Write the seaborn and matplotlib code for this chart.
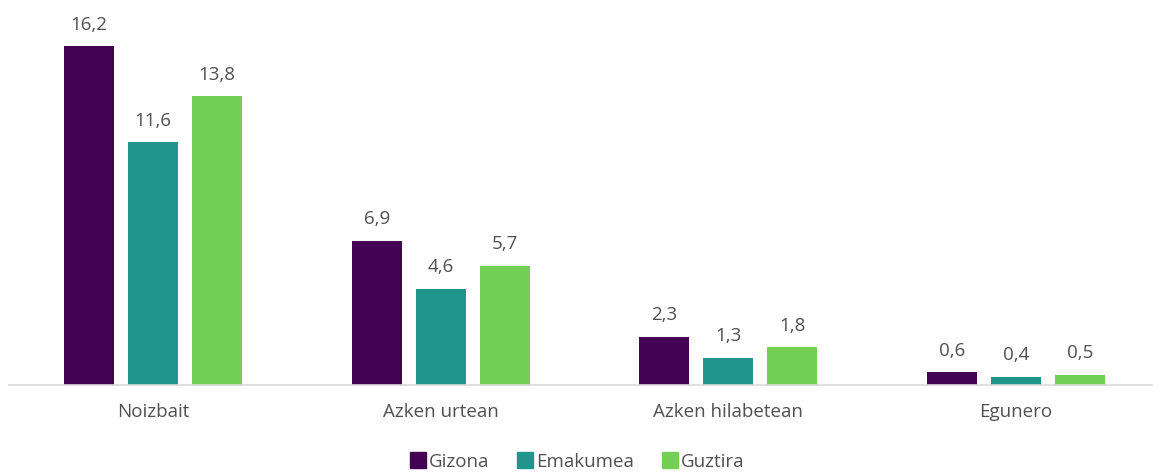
import pandas as pd
import matplotlib.pyplot as plt
import seaborn as sns

# data
categories = ['Noizbait', 'Azken urtean', 'Azken hilabetean', 'Egunero']
gizona = [16.2, 6.9, 2.3, 0.6]
emakumea = [11.6, 4.6, 1.3, 0.4]
guztira = [13.8, 5.7, 1.8, 0.5]
series = ['Gizona', 'Emakumea', 'Guztira']
colors = ['#440154', '#21958b', '#74d055']

df = pd.DataFrame({
    'cat': categories * 3,
    'val': gizona + emakumea + guztira,
    'serie': [s for s in series for _ in categories],
})

sns.set_style('white')
plt.rcParams['font.family'] = ['Open Sans', 'DejaVu Sans']

fig = plt.figure(figsize=(11.53, 4.72), dpi=100)
ax = fig.add_axes([9 / 1153, 87 / 472, 1151 / 1153, 385 / 472])

sns.barplot(data=df, x='cat', y='val', hue='serie', palette=colors, saturation=1,
            width=0.667, gap=0.22, ax=ax, legend=False, linewidth=0)

for cont in ax.containers:
    ax.bar_label(cont, labels=[f'{v:.1f}'.replace('.', ',') for v in cont.datavalues],
                 padding=9, fontsize=13.5, color='#505050')

ax.set_ylim(0, 18.4)
ax.set_xlim(-0.5, 3.5)
ax.set_yticks([])
ax.set_xlabel('')
ax.set_ylabel('')
for s in ['top', 'left', 'right']:
    ax.spines[s].set_visible(False)
ax.spines['bottom'].set_color('#d9d9d9')
ax.spines['bottom'].set_linewidth(1.2)
ax.tick_params(axis='x', length=0, pad=13, labelsize=13.5, labelcolor='#505050')

handles = [plt.Line2D([], [], marker='s', linestyle='', color=c, markersize=11) for c in colors]
fig.legend(handles, series, loc='center', bbox_to_anchor=(0.5, 10 / 472), ncol=3,
           frameon=False, fontsize=13.5, labelcolor='#505050', handletextpad=0.1,
           columnspacing=1.4, handlelength=1.0)

fig.savefig('out.png', dpi=100)
